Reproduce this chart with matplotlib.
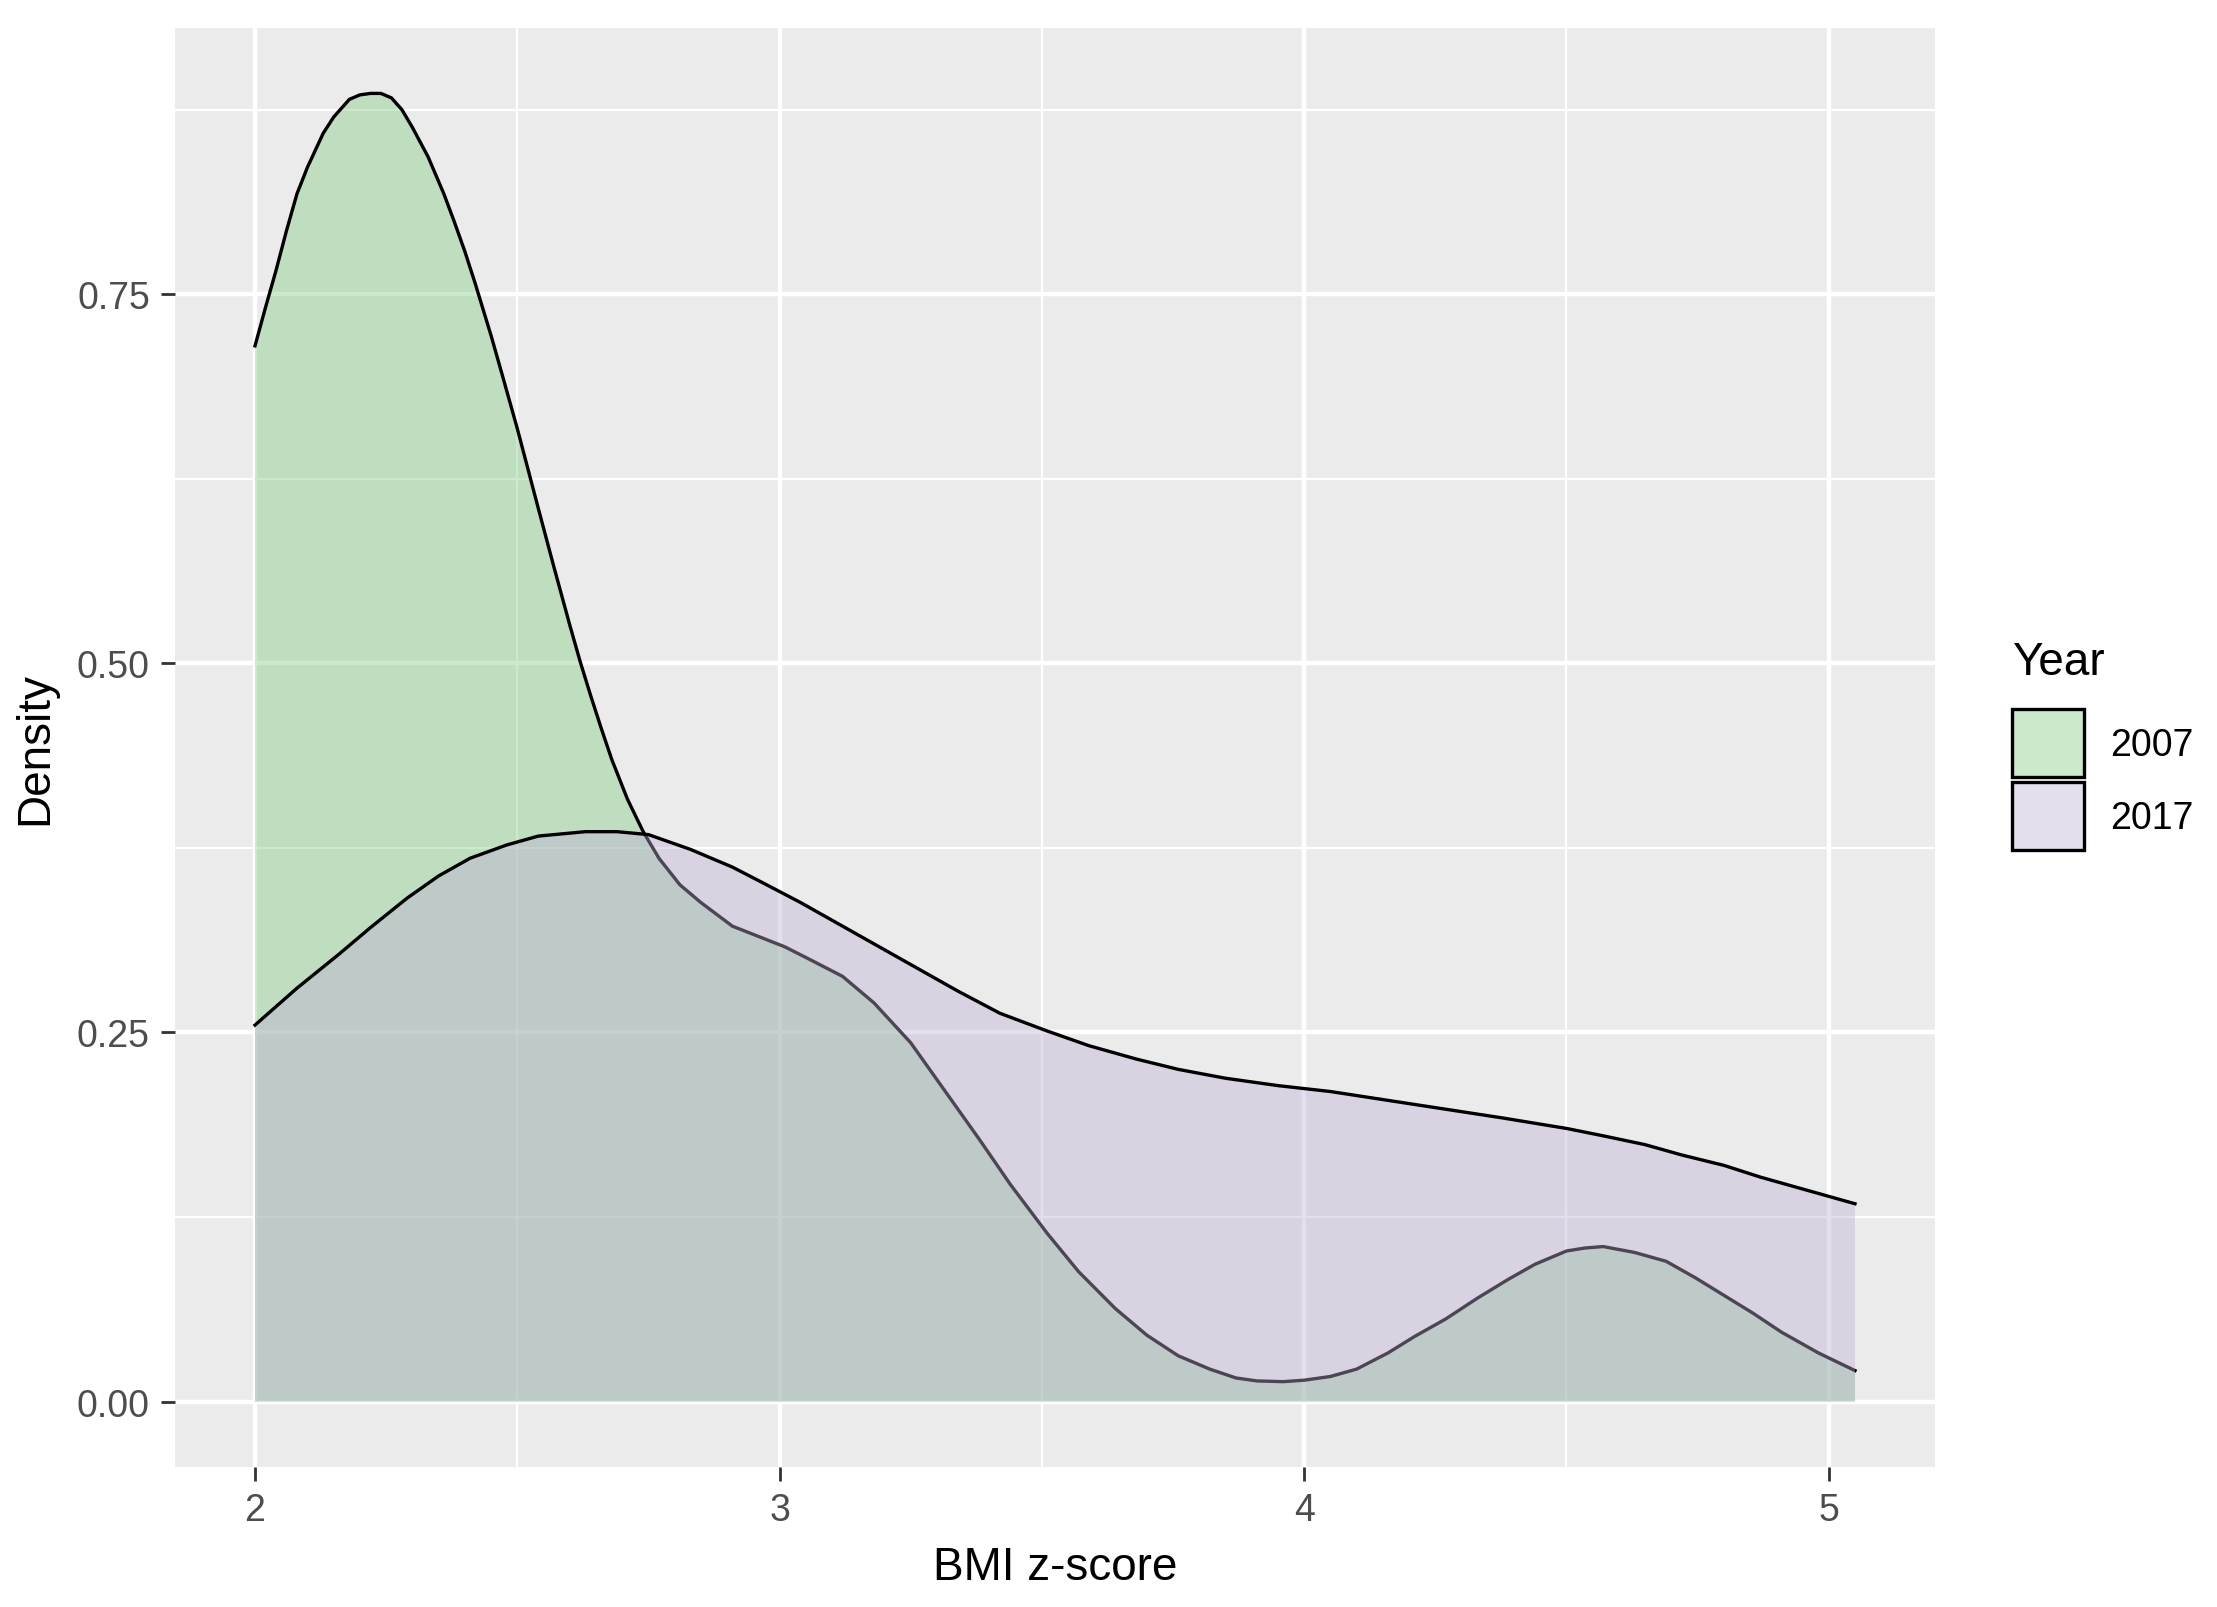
import matplotlib
matplotlib.use("Agg")
import matplotlib.pyplot as plt
from matplotlib.patches import Patch
from matplotlib.colors import to_rgba
from matplotlib.ticker import MultipleLocator

plt.rcParams['font.family'] = ['Liberation Sans', 'DejaVu Sans']

""" data read off the reference """
## density of BMI z-score, 2007
x_2007 = [2.00, 2.02, 2.04, 2.06, 2.08, 2.10, 2.13, 2.15, 2.18, 2.20, 2.22, 2.24,
          2.26, 2.28, 2.30, 2.33, 2.36, 2.38, 2.40, 2.42, 2.45, 2.47, 2.50, 2.52,
          2.54, 2.57, 2.60, 2.62, 2.64, 2.66, 2.68, 2.71, 2.74, 2.77, 2.81, 2.85,
          2.91, 2.96, 3.01, 3.06, 3.12, 3.18, 3.25, 3.31, 3.38, 3.44, 3.51, 3.57,
          3.64, 3.70, 3.76, 3.82, 3.87, 3.91, 3.96, 4.00, 4.05, 4.10, 4.16, 4.21,
          4.27, 4.33, 4.39, 4.44, 4.50, 4.535, 4.57, 4.63, 4.69, 4.745, 4.80, 4.855,
          4.91, 4.98, 5.05]
y_2007 = [0.715, 0.741, 0.766, 0.793, 0.818, 0.836, 0.859, 0.870, 0.882, 0.885, 0.886, 0.886,
          0.883, 0.875, 0.863, 0.843, 0.818, 0.799, 0.779, 0.757, 0.722, 0.697, 0.659, 0.632,
          0.605, 0.565, 0.526, 0.501, 0.478, 0.456, 0.435, 0.408, 0.386, 0.368, 0.350, 0.338,
          0.322, 0.315, 0.308, 0.299, 0.288, 0.270, 0.243, 0.213, 0.178, 0.147, 0.114, 0.088,
          0.063, 0.045, 0.031, 0.022, 0.016, 0.014, 0.0135, 0.0145, 0.017, 0.022, 0.033, 0.044,
          0.056, 0.070, 0.083, 0.093, 0.102, 0.104, 0.105, 0.101, 0.095, 0.084, 0.072, 0.060,
          0.047, 0.033, 0.021]
## density of BMI z-score, 2017
x_2017 = [2.00, 2.08, 2.16, 2.22, 2.29, 2.35, 2.41, 2.48, 2.54, 2.63, 2.69, 2.75,
          2.83, 2.91, 2.97, 3.04, 3.10, 3.17, 3.25, 3.34, 3.42, 3.51, 3.59, 3.68,
          3.76, 3.85, 3.95, 4.05, 4.16, 4.27, 4.38, 4.50, 4.57, 4.65, 4.72, 4.80,
          4.87, 4.95, 5.05]
y_2017 = [0.255, 0.280, 0.303, 0.321, 0.341, 0.356, 0.368, 0.377, 0.383, 0.386, 0.386, 0.384,
          0.374, 0.362, 0.351, 0.338, 0.326, 0.312, 0.296, 0.278, 0.263, 0.251, 0.241, 0.232,
          0.225, 0.219, 0.214, 0.210, 0.204, 0.198, 0.192, 0.185, 0.180, 0.174, 0.167, 0.160,
          0.152, 0.144, 0.134]

years = ["2007", "2017"]
fills = ["#7FC97F", "#BEAED4"]
x_ticks = [2, 3, 4, 5]
y_ticks = [0.0, 0.25, 0.5, 0.75]
y_ticklabels = ["0.00", "0.25", "0.50", "0.75"]

""" figure """
W, H = 2217, 1608
fig = plt.figure(figsize=(W / 100, H / 100), dpi=100)
ax = fig.add_axes([175 / W, 1 - 1468 / H, (1935 - 175) / W, (1468 - 29) / H])
ax.set_facecolor("#EBEBEB")

for xs, ys, c in [(x_2007, y_2007, fills[0]), (x_2017, y_2017, fills[1])]:
    ax.fill_between(xs, ys, 0, facecolor=c, alpha=0.4, linewidth=0, zorder=3)
    ax.plot(xs, ys, color="black", linewidth=2.4, zorder=3,
            solid_joinstyle="round")

## ggplot-like scales (5% expansion)
xr = max(x_2007) - min(x_2007)
ax.set_xlim(min(x_2007) - 0.05 * xr, max(x_2007) + 0.05 * xr)
yr = max(y_2007)
ax.set_ylim(-0.05 * yr, 1.05 * yr)

ax.set_xticks(x_ticks)
ax.set_xticklabels([str(v) for v in x_ticks])
ax.set_yticks(y_ticks)
ax.set_yticklabels(y_ticklabels)
ax.xaxis.set_minor_locator(MultipleLocator(0.5))
ax.yaxis.set_minor_locator(MultipleLocator(0.125))
ax.grid(which="major", color="white", linewidth=3.2, zorder=0)
ax.grid(which="minor", color="white", linewidth=1.6, zorder=0)
ax.set_axisbelow(True)
ax.tick_params(which="major", length=10, width=2, color="#333333",
               labelsize=27, labelcolor="#4D4D4D", pad=8)
ax.tick_params(which="minor", length=0)
for s in ax.spines.values():
    s.set_visible(False)

ax.set_xlabel("BMI z-score", fontsize=33, labelpad=12)
ax.set_ylabel("Density", fontsize=33, labelpad=14)

## legend
fig.text(2012 / W, 1 - 663 / H, "Year", fontsize=33, va="center", ha="left")
handles = [Patch(facecolor=to_rgba(c, 0.4), edgecolor="black", linewidth=2.4) for c in fills]
fig.legend(handles, years, loc="upper left", bbox_to_anchor=(2012 / W, 1 - 710 / H),
           frameon=False, fontsize=27, handlelength=1.92, handleheight=2.42,
           labelspacing=0.13, handletextpad=0.7, borderpad=0, borderaxespad=0)

plt.savefig("out.png", dpi=100)
